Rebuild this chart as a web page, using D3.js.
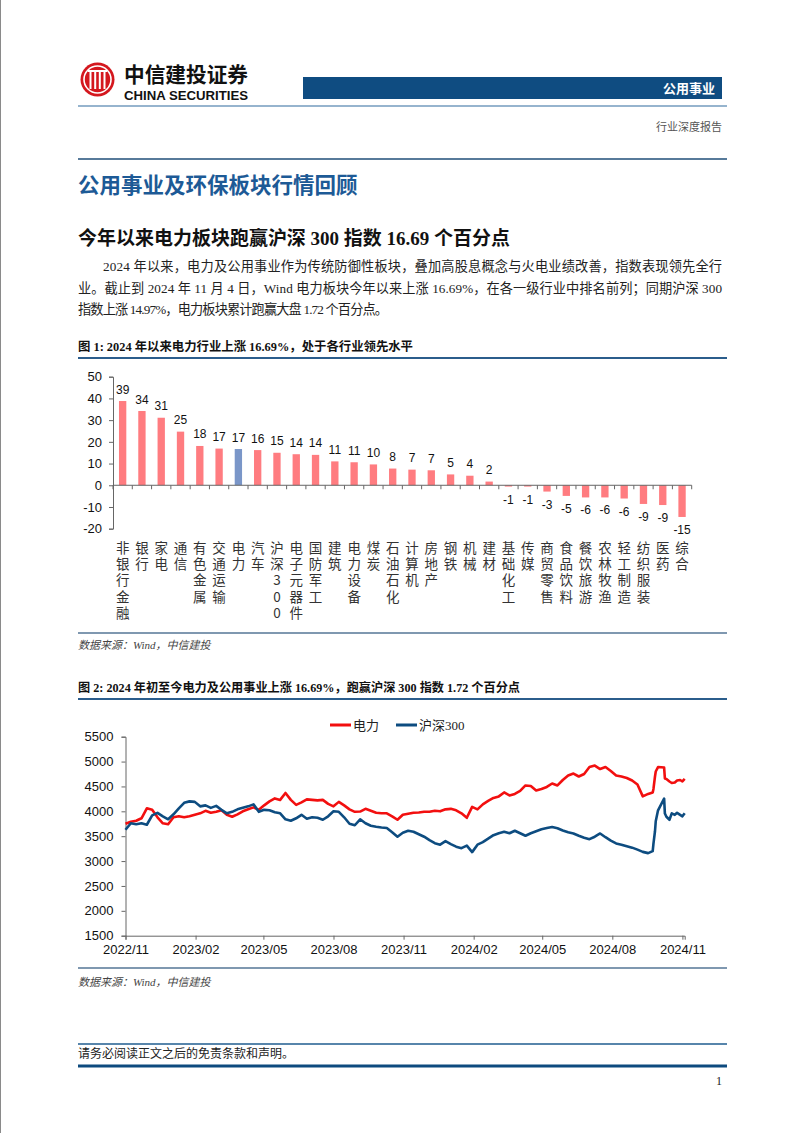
<!DOCTYPE html>
<html><head><meta charset="utf-8">
<script src="https://cdn.jsdelivr.net/npm/d3@7"></script>
<style>body{margin:0;background:#fff}svg{display:block}</style>
</head><body><svg id="page" width="802" height="1133"></svg>
<script>
// ---------- Figure 1 data ----------
const categories = ["非银行金融","银行","家电","通信","有色金属","交通运输","电力","汽车","沪深300","电子元器件","国防军工","建筑","电力设备","煤炭","石油石化","计算机","房地产","钢铁","机械","建材","基础化工","传媒","商贸零售","食品饮料","餐饮旅游","农林牧渔","轻工制造","纺织服装","医药","综合"];
const values = [38.8,34.2,31.1,24.7,18.1,16.9,16.69,16.2,14.97,14.3,14.0,11.0,10.6,9.6,7.7,7.2,6.9,5.0,4.4,1.7,-0.6,-0.6,-2.9,-4.9,-5.6,-5.6,-6.1,-8.6,-9.1,-14.6];
const highlight = "电力";
const barTicks = [-20,-10,0,10,20,30,40,50];

// ---------- Figure 2 data ----------
const lineDates = ["2022-11-01","2022-11-08","2022-11-15","2022-11-22","2022-11-29","2022-12-06","2022-12-13","2022-12-20","2022-12-27",
"2023-01-03","2023-01-10","2023-01-17","2023-01-24","2023-01-31","2023-02-07","2023-02-14","2023-02-21","2023-02-28","2023-03-07","2023-03-14","2023-03-21","2023-03-28","2023-04-04","2023-04-11","2023-04-18","2023-04-25","2023-05-02","2023-05-09","2023-05-16","2023-05-23","2023-05-30","2023-06-06","2023-06-13","2023-06-20","2023-06-27","2023-07-04","2023-07-11","2023-07-18","2023-07-25","2023-08-01","2023-08-08","2023-08-15","2023-08-22","2023-08-29","2023-09-05","2023-09-12","2023-09-19","2023-09-26","2023-10-03","2023-10-10","2023-10-17","2023-10-24","2023-10-31","2023-11-07","2023-11-14","2023-11-21","2023-11-28","2023-12-05","2023-12-12","2023-12-19","2023-12-26",
"2024-01-02","2024-01-09","2024-01-16","2024-01-23","2024-01-30","2024-02-06","2024-02-13","2024-02-20","2024-02-27","2024-03-05","2024-03-12","2024-03-19","2024-03-26","2024-04-02","2024-04-09","2024-04-16","2024-04-23","2024-04-30","2024-05-07","2024-05-14","2024-05-21","2024-05-28","2024-06-04","2024-06-11","2024-06-18","2024-06-25","2024-07-02","2024-07-09","2024-07-16","2024-07-23","2024-07-30","2024-08-06","2024-08-13","2024-08-20","2024-08-27","2024-09-03","2024-09-10","2024-09-17",
"2024-09-23","2024-09-24","2024-09-26","2024-09-27","2024-09-30","2024-10-08","2024-10-09","2024-10-11","2024-10-15","2024-10-18","2024-10-22","2024-10-25","2024-10-29","2024-11-01","2024-11-04"];
const powerValues = [3750,3790,3810,3860,4060,4030,3880,3760,3740,3880,
3900,3880,3900,3930,3960,4010,3970,3990,4020,3930,
3890,3940,4000,4040,4080,4030,4120,4200,4260,4230,
4370,4230,4130,4180,4240,4230,4220,4230,4150,4100,
4190,4120,4040,3990,3995,4050,4010,3970,3960,3960,
3900,3830,3930,3950,3970,3975,3990,3990,4010,4000,
4040,4050,4020,3960,3870,4090,4040,4140,4210,4270,
4300,4380,4320,4350,4410,4520,4510,4420,4450,4490,
4560,4520,4630,4720,4760,4700,4750,4890,4920,4850,
4890,4810,4720,4700,4670,4620,4540,4300,4350,
4380,4450,4700,4800,4890,4880,4660,4650,4600,4570,4580,4620,4630,4600,4650];
const csi300Values = [3630,3760,3740,3760,3730,3920,3970,3900,3840,3940,
4060,4170,4200,4190,4100,4120,4070,4110,4030,3960,
3990,4040,4070,4100,4140,3990,4030,4020,3980,3960,
3840,3810,3860,3930,3850,3880,3870,3830,3900,4000,
3990,3880,3750,3720,3840,3760,3710,3690,3675,3665,
3580,3490,3570,3610,3590,3540,3490,3420,3360,3330,
3400,3340,3290,3260,3310,3180,3330,3380,3450,3520,
3560,3590,3560,3610,3560,3510,3560,3600,3640,3665,
3685,3660,3615,3580,3555,3510,3470,3440,3490,3555,
3480,3410,3355,3330,3300,3270,3230,3185,3160,
3200,3350,3600,3800,4020,4256,3955,3890,3830,3960,3930,3970,3930,3900,3960];
const seriesNames = ["电力","沪深300"];
const lineTicksY = [1500,2000,2500,3000,3500,4000,4500,5000,5500];
const lineTicksX = ["2022-11-01","2023-02-01","2023-05-01","2023-08-01","2023-11-01","2024-02-01","2024-05-01","2024-08-01","2024-11-01"];

// ---------- page ----------
const svg = d3.select("#page");
const CJK = "'Noto Sans CJK SC', sans-serif";
const SERIF = "'Liberation Serif', 'Noto Sans CJK SC', serif";
const SANS = "'Liberation Sans', Arial, sans-serif";
const NAVY = "#0F4C81";

svg.append("rect").attr("x",0).attr("y",0).attr("width",1).attr("height",1133).attr("fill","#8a8a8a");

// Logo
const logo = svg.append("g");
logo.append("circle").attr("cx",97.5).attr("cy",79.5).attr("r",17).attr("fill","#D4171E");
logo.append("circle").attr("cx",97.5).attr("cy",79.5).attr("r",13.5).attr("fill","none").attr("stroke","#fff").attr("stroke-width",1.6);
[-7,-2.3,2.3,7].forEach(dx=>{
  logo.append("rect").attr("x",97.5+dx-1).attr("y",70).attr("width",2).attr("height",19).attr("fill","#fff");
});
logo.append("rect").attr("x",88).attr("y",70).attr("width",19).attr("height",2).attr("fill","#fff");
svg.append("text").attr("x",124).attr("y",81.5).attr("font-family",CJK).attr("font-weight",700)
  .attr("font-size",21).attr("textLength",124).attr("lengthAdjust","spacingAndGlyphs").attr("fill","#111").text("中信建投证券");
svg.append("text").attr("x",124).attr("y",99.5).attr("font-family",SANS).attr("font-weight",700)
  .attr("font-size",12.5).attr("textLength",124).attr("lengthAdjust","spacingAndGlyphs").attr("fill","#111").text("CHINA SECURITIES");

svg.append("rect").attr("x",303).attr("y",77).attr("width",419).attr("height",22).attr("fill",NAVY);
svg.append("text").attr("x",715).attr("y",93).attr("text-anchor","end").attr("font-family",CJK).attr("font-weight",700)
  .attr("font-size",13).attr("fill","#fff").text("公用事业");
svg.append("line").attr("x1",78).attr("x2",727).attr("y1",106).attr("y2",106).attr("stroke","#2E6A9E").attr("stroke-width",1.2);
svg.append("text").attr("x",722).attr("y",131).attr("text-anchor","end").attr("font-family",CJK)
  .attr("font-size",11).attr("fill","#555").text("行业深度报告");
svg.append("line").attr("x1",78).attr("x2",727).attr("y1",159).attr("y2",159).attr("stroke","#1F4E79").attr("stroke-width",1.4);

svg.append("text").attr("x",78).attr("y",193).attr("font-family",CJK).attr("font-weight",700)
  .attr("font-size",21.5).attr("fill","#1D5A96").text("公用事业及环保板块行情回顾");
svg.append("text").attr("x",78).attr("y",245).attr("font-family",SERIF).attr("font-weight",700)
  .attr("font-size",19).attr("fill","#111").attr("textLength",432).attr("lengthAdjust","spacingAndGlyphs")
  .text("今年以来电力板块跑赢沪深 300 指数 16.69 个百分点");

const para = [
  {x:103, y:271, w:619, t:"2024 年以来，电力及公用事业作为传统防御性板块，叠加高股息概念与火电业绩改善，指数表现领先全行"},
  {x:78, y:293, w:644, t:"业。截止到 2024 年 11 月 4 日，Wind 电力板块今年以来上涨 16.69%，在各一级行业中排名前列；同期沪深 300"},
  {x:78, y:314, w:310, t:"指数上涨 14.97%，电力板块累计跑赢大盘 1.72 个百分点。"}
];
para.forEach(p=>{
  svg.append("text").attr("x",p.x).attr("y",p.y).attr("font-family",SERIF).attr("font-size",13.2)
    .attr("fill","#222").attr("textLength",p.w).attr("lengthAdjust","spacing").text(p.t);
});

function figTitle(y, w, t){
  svg.append("text").attr("x",78).attr("y",y).attr("font-family",SERIF).attr("font-weight",700)
    .attr("font-size",12.5).attr("fill","#111").attr("textLength",w).attr("lengthAdjust","spacingAndGlyphs").text(t);
}
function source(y){
  svg.append("text").attr("x",78).attr("y",y).attr("font-family",SERIF).attr("font-style","italic")
    .attr("font-size",11).attr("fill","#444").text("数据来源：Wind，中信建投");
}
figTitle(351, 335, "图 1: 2024 年以来电力行业上涨 16.69%，处于各行业领先水平");
svg.append("line").attr("x1",78).attr("x2",727).attr("y1",358).attr("y2",358).attr("stroke","#2B5D8C").attr("stroke-width",2);
svg.append("line").attr("x1",78).attr("x2",727).attr("y1",633).attr("y2",633).attr("stroke","#7F98B0").attr("stroke-width",2);
source(649);

// ---------- Figure 1 : bars ----------
const xB = d3.scaleBand().domain(categories).range([113, 691.7]).padding(0);
const yB = d3.scaleLinear().domain([-20,50]).range([528.7,376.7]);
const bw = xB.bandwidth();
const g1 = svg.append("g");
g1.selectAll("rect.bar").data(categories).join("rect").attr("class","bar")
  .attr("x", c=> xB(c)+bw*0.31).attr("width", bw*0.38)
  .attr("y", (c,i)=> yB(Math.max(0,values[i])))
  .attr("height", (c,i)=> Math.abs(yB(values[i])-yB(0)))
  .attr("fill", c=> c===highlight ? "#7A96C8" : "#FF7C80");

const yAx1 = g1.append("g").attr("transform","translate(113,0)")
  .call(d3.axisLeft(yB).tickValues(barTicks).tickSize(4).tickPadding(7).tickFormat(d=>String(d)));
yAx1.selectAll("path,line").attr("stroke","#666");
yAx1.selectAll("text").attr("font-family",SANS).attr("font-size",13).attr("fill","#111");

const y0 = yB(0);
g1.append("line").attr("x1",113).attr("x2",691.7).attr("y1",y0).attr("y2",y0).attr("stroke","#666");
const bounds = categories.map(c=>xB(c)).concat([xB.range()[1]]);
g1.selectAll("line.xt").data(bounds).join("line").attr("class","xt")
  .attr("x1",d=>d).attr("x2",d=>d).attr("y1",y0).attr("y2",y0+4).attr("stroke","#666");

g1.selectAll("text.val").data(categories).join("text").attr("class","val")
  .attr("x", c=> xB(c)+bw/2)
  .attr("y", (c,i)=> values[i]>=0 ? yB(values[i])-7.5 : yB(values[i])+17)
  .attr("text-anchor","middle").attr("font-family",SANS).attr("font-size",12).attr("fill","#111")
  .text((c,i)=> String(Math.round(values[i])));

// vertical category labels (one character per line)
g1.selectAll("text.cat").data(categories).join("text").attr("class","cat")
  .attr("x", c=> xB(c)+bw/2).attr("y", 541)
  .style("writing-mode","vertical-rl").style("text-orientation","upright")
  .style("letter-spacing","2.8px")
  .attr("font-family",CJK).attr("font-size",13.5).attr("fill","#333")
  .text(c=>c);

// ---------- Figure 2 : lines ----------
figTitle(692, 442, "图 2: 2024 年初至今电力及公用事业上涨 16.69%，跑赢沪深 300 指数 1.72 个百分点");
svg.append("line").attr("x1",78).attr("x2",727).attr("y1",699).attr("y2",699).attr("stroke","#2B5D8C").attr("stroke-width",2);
svg.append("line").attr("x1",78).attr("x2",727).attr("y1",968).attr("y2",968).attr("stroke","#7F98B0").attr("stroke-width",2);
source(986);

const parse = d3.utcParse("%Y-%m-%d");
const dates = lineDates.map(parse);
const xT = d3.scaleUtc().domain([dates[0], dates[dates.length-1]]).range([125.5, 684.7]);
const yT = d3.scaleLinear().domain([1500,5500]).range([935.7,736.7]);
const g2 = svg.append("g");
const yAx2 = g2.append("g").attr("transform","translate(125.5,0)")
  .call(d3.axisLeft(yT).tickValues(lineTicksY).tickSize(4).tickPadding(8).tickFormat(d=>String(d)));
const xAx2 = g2.append("g").attr("transform","translate(0,935.7)")
  .call(d3.axisBottom(xT).tickValues(lineTicksX.map(parse)).tickSize(4).tickPadding(5).tickFormat(d3.utcFormat("%Y/%m")));
[yAx2,xAx2].forEach(a=>{
  a.selectAll("path,line").attr("stroke","#666");
  a.selectAll("text").attr("font-family",SANS).attr("font-size",13).attr("fill","#111");
});
const series = [
  {name:seriesNames[0], vals:powerValues, color:"#F20F0F"},
  {name:seriesNames[1], vals:csi300Values, color:"#0D4C80"}
];
const line = d3.line().x((d,i)=>xT(dates[i])).y(d=>yT(d));
series.forEach(s=>{
  g2.append("path").datum(s.vals).attr("d",line).attr("fill","none")
    .attr("stroke",s.color).attr("stroke-width",2.6).attr("stroke-linejoin","round");
});
// legend
const legendX = [330, 396];
series.forEach((s,i)=>{
  g2.append("line").attr("x1",legendX[i]).attr("x2",legendX[i]+21).attr("y1",725).attr("y2",725)
    .attr("stroke",s.color).attr("stroke-width",3);
  g2.append("text").attr("x",legendX[i]+23).attr("y",730).attr("font-family",SERIF).attr("font-size",13)
    .attr("fill","#222").text(s.name);
});

// ---------- footer ----------
svg.append("line").attr("x1",78).attr("x2",727).attr("y1",1044).attr("y2",1044).attr("stroke","#1F5C8F").attr("stroke-width",1.5);
svg.append("text").attr("x",78).attr("y",1058).attr("font-family",SERIF).attr("font-size",12).attr("fill","#222")
  .text("请务必阅读正文之后的免责条款和声明。");
svg.append("line").attr("x1",78).attr("x2",727).attr("y1",1066).attr("y2",1066).attr("stroke","#0D4A7E").attr("stroke-width",3);
svg.append("text").attr("x",722).attr("y",1085).attr("text-anchor","end").attr("font-family",SERIF).attr("font-size",12)
  .attr("fill","#222").text("1");
</script></body></html>
